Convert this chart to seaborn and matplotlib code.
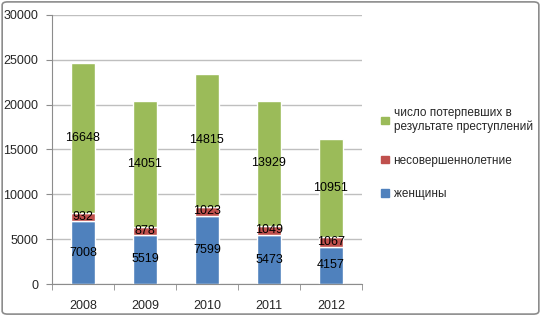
import numpy as np
import pandas as pd
import seaborn as sns
from matplotlib import pyplot as plt
from matplotlib.patches import FancyBboxPatch, Patch

years = ["2008", "2009", "2010", "2011", "2012"]
women = [7008, 5519, 7599, 5473, 4157]
minors = [932, 878, 1023, 1049, 1067]
victims = [16648, 14051, 14815, 13929, 10951]

names = ["женщины", "несовершеннолетние", "число потерпевших в\nрезультате преступлений"]
colors = ["#4F81BD", "#C0504D", "#9BBB59"]

sns.set_style("white")
plt.rcParams['font.family'] = ['Liberation Sans', 'DejaVu Sans']

fig = plt.figure(figsize=(5.41, 3.16), dpi=100)
ax = fig.add_axes([0.096, 0.101, 0.573, 0.852])

# rounded grey frame round the whole chart
fig.patches.append(FancyBboxPatch((0.004, 0.006), 0.992, 0.988,
                                  boxstyle="round,pad=0,rounding_size=0.01",
                                  transform=fig.transFigure, fill=False,
                                  edgecolor="#8C8C8C", linewidth=1.2))

df = pd.DataFrame({"year": years, "women": women, "minors": minors, "victims": victims})
bottom = np.zeros(len(years))
for col, c in zip(["women", "minors", "victims"], colors):
    sns.barplot(data=df, x="year", y=col, color=c, width=0.39,
                bottom=bottom, ax=ax, saturation=1)
    bottom = bottom + df[col].values

for cont in ax.containers:
    ax.bar_label(cont, label_type="center", fontsize=9, color="black")

ax.set_ylim(0, 30000)
ax.set_yticks(range(0, 30001, 5000))
ax.set_xlim(-0.5, 4.5)
ax.yaxis.grid(True, color="#BFBFBF", linewidth=1)
ax.set_axisbelow(True)
ax.set_xlabel("")
ax.set_ylabel("")
for s in ["top", "right"]:
    ax.spines[s].set_visible(False)
ax.spines["left"].set_color("#8C8C8C")
ax.spines["bottom"].set_color("#8C8C8C")
ax.tick_params(axis="y", left=True, length=4, color="#8C8C8C", labelsize=9, pad=6)
ax.tick_params(axis="x", bottom=False, labelsize=9, pad=8)
# small ticks between categories
ax.set_xticks(np.arange(-0.5, 5, 1), minor=True)
ax.tick_params(axis="x", which="minor", bottom=True, length=4, color="#8C8C8C")

handles = [Patch(color=c) for c in colors[::-1]]
fig.legend(handles, names[::-1], loc="upper left", bbox_to_anchor=(0.685, 0.695),
           frameon=False, fontsize=8.5, handlelength=0.65, handleheight=0.65,
           handletextpad=0.4, labelspacing=1.8)

fig.savefig("out.png", dpi=100)
